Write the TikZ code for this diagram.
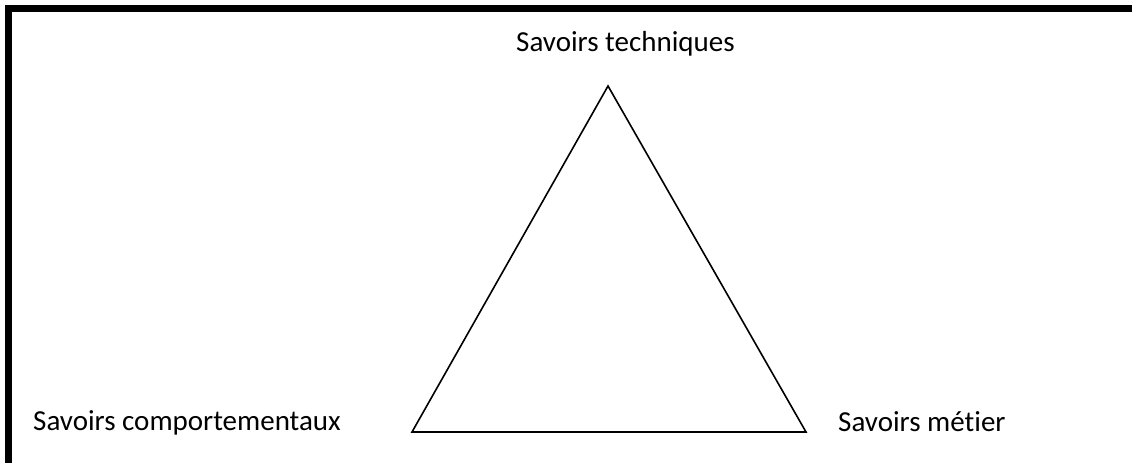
\documentclass[tikz,border=0pt]{standalone}
\usepackage{fontspec}
\setmainfont{Carlito}[RawFeature=-liga]
\begin{document}
\begin{tikzpicture}[x=1pt,y=-1pt,
  frame/.style={line width=7pt,line join=miter},
  edge/.style={line width=1.6pt,line join=miter},
  label/.style={font=\fontsize{29}{34}\selectfont,inner sep=0pt}]
  \useasboundingbox (0,0) rectangle (1132,463);
  % open frame: top and left sides only
  \draw[frame] (1132,8.5) -- (8,8.5) -- (8,463);
  % triangle corners
  \coordinate (top) at (608,86);
  \coordinate (left) at (412,432);
  \coordinate (right) at (806,432);
  \draw[edge] (top) -- (left) -- (right) -- cycle;
  % corner labels
  \node[label,anchor=base west] (tech) at (516,51) {Savoirs techniques};
  \node[label,anchor=base west] (comp) at (33,430) {Savoirs comportementaux};
  \node[label,anchor=base west] (metier) at (838,431) {Savoirs métier};
\end{tikzpicture}
\end{document}
